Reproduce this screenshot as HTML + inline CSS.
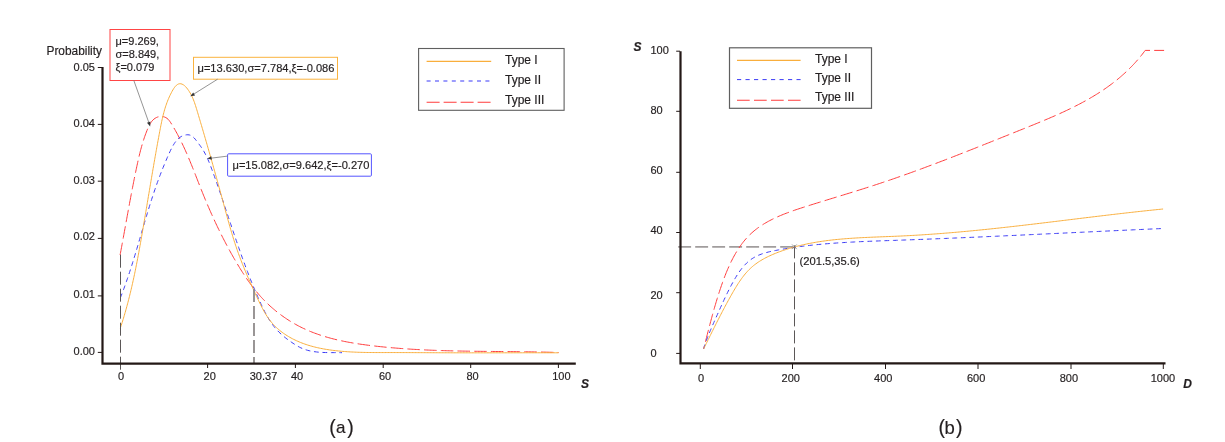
<!DOCTYPE html>
<html><head><meta charset="utf-8"><style>
html,body{margin:0;padding:0;background:#fff;width:1225px;height:442px;overflow:hidden}
svg{display:block;will-change:transform}
text{font-family:"Liberation Sans",sans-serif;fill:#231f20;stroke:#231f20;stroke-width:0.18px}
</style></head><body>
<svg width="1225" height="442" viewBox="0 0 1225 442">
<path d="M120.10,255.00 L120.37,253.54 L120.65,252.07 L120.92,250.60 L121.19,249.14 L121.46,247.67 L121.74,246.20 L122.01,244.73 L122.28,243.26 L122.55,241.79 L122.81,240.32 L123.08,238.85 L123.35,237.38 L123.62,235.90 L123.89,234.43 L124.16,232.95 L124.42,231.48 L124.69,230.01 L124.96,228.53 L125.22,227.05 L125.49,225.58 L125.76,224.10 L126.03,222.63 L126.29,221.15 L126.56,219.67 L126.83,218.20 L127.10,216.72 L127.37,215.24 L127.64,213.77 L127.91,212.29 L128.18,210.81 L128.45,209.34 L128.72,207.86 L128.99,206.39 L129.27,204.91 L129.54,203.43 L129.81,201.96 L130.09,200.48 L130.36,199.01 L130.64,197.54 L130.92,196.06 L131.20,194.59 L131.48,193.12 L131.76,191.64 L132.04,190.17 L132.33,188.70 L132.61,187.23 L132.90,185.76 L133.19,184.29 L133.47,182.82 L133.76,181.36 L134.06,179.89 L134.35,178.43 L134.64,176.96 L134.94,175.50 L135.24,174.03 L135.54,172.57 L135.84,171.11 L136.15,169.65 L136.45,168.19 L136.76,166.74 L137.07,165.28 L137.38,163.83 L137.70,162.37 L138.02,160.92 L138.35,159.47 L138.68,158.02 L139.02,156.57 L139.36,155.12 L139.71,153.67 L140.08,152.23 L140.45,150.78 L140.83,149.34 L141.22,147.89 L141.62,146.45 L142.03,145.01 L142.45,143.57 L142.89,142.13 L143.34,140.69 L143.81,139.25 L144.29,137.81 L144.78,136.37 L145.29,134.94 L145.82,133.50 L146.37,132.07 L146.93,130.63 L147.51,129.20 L148.12,127.77 L148.76,126.36 L149.44,124.99 L150.18,123.66 L150.99,122.40 L151.87,121.21 L152.85,120.12 L153.92,119.13 L155.10,118.27 L156.37,117.55 L157.70,117.01 L159.08,116.64 L160.48,116.47 L161.87,116.47 L163.25,116.66 L164.58,117.04 L165.85,117.60 L167.02,118.35 L168.08,119.27 L169.04,120.35 L169.93,121.54 L170.77,122.79 L171.58,124.08 L172.38,125.38 L173.16,126.68 L173.94,127.99 L174.70,129.30 L175.45,130.61 L176.18,131.93 L176.91,133.25 L177.63,134.58 L178.33,135.91 L179.03,137.24 L179.71,138.58 L180.39,139.92 L181.06,141.27 L181.72,142.61 L182.37,143.97 L183.01,145.32 L183.65,146.68 L184.28,148.04 L184.90,149.40 L185.51,150.77 L186.12,152.13 L186.72,153.51 L187.32,154.88 L187.91,156.25 L188.49,157.63 L189.07,159.01 L189.65,160.39 L190.22,161.77 L190.78,163.16 L191.35,164.54 L191.91,165.93 L192.47,167.32 L193.02,168.70 L193.57,170.09 L194.12,171.49 L194.67,172.88 L195.22,174.27 L195.77,175.66 L196.31,177.05 L196.86,178.45 L197.40,179.84 L197.95,181.24 L198.49,182.63 L199.04,184.02 L199.59,185.42 L200.14,186.81 L200.69,188.20 L201.24,189.59 L201.80,190.98 L202.36,192.37 L202.92,193.76 L203.48,195.15 L204.05,196.54 L204.62,197.92 L205.19,199.31 L205.77,200.69 L206.35,202.07 L206.94,203.46 L207.52,204.84 L208.11,206.21 L208.71,207.59 L209.31,208.97 L209.91,210.34 L210.51,211.71 L211.12,213.08 L211.73,214.45 L212.35,215.82 L212.97,217.19 L213.59,218.55 L214.22,219.91 L214.85,221.28 L215.48,222.63 L216.12,223.99 L216.76,225.35 L217.40,226.70 L218.05,228.05 L218.71,229.40 L219.36,230.75 L220.03,232.10 L220.69,233.44 L221.36,234.78 L222.03,236.12 L222.71,237.46 L223.39,238.79 L224.08,240.12 L224.77,241.45 L225.46,242.78 L226.16,244.11 L226.86,245.43 L227.57,246.75 L228.28,248.07 L228.99,249.38 L229.71,250.70 L230.44,252.01 L231.16,253.31 L231.90,254.62 L232.64,255.92 L233.38,257.22 L234.12,258.51 L234.87,259.81 L235.63,261.10 L236.39,262.39 L237.16,263.67 L237.93,264.95 L238.70,266.23 L239.48,267.51 L240.26,268.78 L241.06,270.04 L241.85,271.31 L242.66,272.57 L243.47,273.82 L244.28,275.07 L245.11,276.31 L245.94,277.55 L246.78,278.78 L247.63,280.01 L248.49,281.23 L249.35,282.44 L250.23,283.65 L251.11,284.85 L252.01,286.04 L252.91,287.23 L253.82,288.40 L254.75,289.57 L255.68,290.73 L256.63,291.89 L257.59,293.03 L258.56,294.17 L259.54,295.29 L260.53,296.41 L261.54,297.51 L262.56,298.61 L263.59,299.70 L264.64,300.77 L265.70,301.84 L266.77,302.89 L267.86,303.93 L268.96,304.97 L270.06,305.99 L271.19,307.00 L272.32,307.99 L273.46,308.98 L274.62,309.95 L275.78,310.91 L276.96,311.86 L278.15,312.79 L279.35,313.71 L280.55,314.62 L281.77,315.52 L283.00,316.40 L284.23,317.27 L285.48,318.12 L286.73,318.96 L287.99,319.79 L289.26,320.60 L290.54,321.40 L291.83,322.18 L293.12,322.95 L294.42,323.70 L295.73,324.43 L297.05,325.15 L298.37,325.86 L299.69,326.55 L301.03,327.22 L302.37,327.88 L303.71,328.52 L305.06,329.14 L306.42,329.76 L307.78,330.35 L309.15,330.94 L310.52,331.50 L311.90,332.06 L313.29,332.60 L314.67,333.13 L316.07,333.64 L317.47,334.14 L318.87,334.63 L320.28,335.11 L321.69,335.57 L323.10,336.02 L324.52,336.46 L325.95,336.89 L327.38,337.30 L328.81,337.71 L330.25,338.10 L331.68,338.49 L333.13,338.86 L334.57,339.22 L336.02,339.58 L337.48,339.92 L338.93,340.25 L340.39,340.58 L341.85,340.89 L343.32,341.20 L344.78,341.50 L346.25,341.79 L347.72,342.07 L349.20,342.34 L350.67,342.60 L352.15,342.86 L353.63,343.11 L355.11,343.36 L356.59,343.59 L358.08,343.82 L359.56,344.05 L361.05,344.27 L362.54,344.48 L364.02,344.68 L365.51,344.89 L367.00,345.08 L368.50,345.27 L369.99,345.46 L371.48,345.64 L372.97,345.82 L374.47,345.99 L375.96,346.16 L377.45,346.33 L378.94,346.49 L380.44,346.65 L381.93,346.80 L383.42,346.95 L384.92,347.10 L386.41,347.25 L387.90,347.39 L389.40,347.52 L390.89,347.66 L392.38,347.79 L393.88,347.92 L395.37,348.04 L396.87,348.16 L398.36,348.28 L399.85,348.40 L401.35,348.51 L402.84,348.62 L404.34,348.73 L405.83,348.83 L407.32,348.93 L408.82,349.03 L410.31,349.12 L411.81,349.22 L413.30,349.31 L414.80,349.39 L416.29,349.48 L417.79,349.56 L419.28,349.64 L420.78,349.72 L422.27,349.79 L423.77,349.87 L425.26,349.94 L426.76,350.00 L428.25,350.07 L429.75,350.13 L431.24,350.19 L432.74,350.25 L434.23,350.31 L435.73,350.37 L437.22,350.42 L438.72,350.47 L440.22,350.52 L441.71,350.57 L443.21,350.62 L444.70,350.66 L446.20,350.71 L447.70,350.75 L449.19,350.79 L450.69,350.82 L452.18,350.86 L453.68,350.90 L455.18,350.93 L456.67,350.96 L458.17,351.00 L459.66,351.03 L461.16,351.05 L462.66,351.08 L464.15,351.11 L465.65,351.13 L467.15,351.16 L468.64,351.18 L470.14,351.20 L471.64,351.23 L473.13,351.25 L474.63,351.27 L476.13,351.29 L477.62,351.31 L479.12,351.32 L480.62,351.34 L482.12,351.36 L483.61,351.37 L485.11,351.39 L486.61,351.40 L488.10,351.42 L489.60,351.43 L491.10,351.45 L492.60,351.46 L494.09,351.48 L495.59,351.49 L497.09,351.50 L498.58,351.52 L500.08,351.53 L501.58,351.54 L503.08,351.56 L504.57,351.57 L506.07,351.58 L507.57,351.60 L509.07,351.61 L510.56,351.63 L512.06,351.64 L513.56,351.66 L515.06,351.67 L516.56,351.69 L518.05,351.70 L519.55,351.72 L521.05,351.74 L522.55,351.76 L524.04,351.78 L525.54,351.80 L527.04,351.82 L528.54,351.84 L530.04,351.86 L531.53,351.88 L533.03,351.91 L534.53,351.93 L536.03,351.96 L537.53,351.98 L539.02,352.01 L540.52,352.04 L542.02,352.07 L543.52,352.10 L545.02,352.14 L546.51,352.17 L548.01,352.21 L549.51,352.24 L551.01,352.28 L552.51,352.32 L554.01,352.37 L555.50,352.41 L557.00,352.45 L558.50,352.50" fill="none" stroke="#ff3c3c" stroke-width="1" stroke-dasharray="12.5 4.2"/>
<path d="M120.30,298.00 L120.85,296.62 L121.39,295.23 L121.93,293.84 L122.46,292.44 L122.99,291.05 L123.51,289.65 L124.02,288.25 L124.53,286.85 L125.04,285.44 L125.54,284.03 L126.04,282.62 L126.53,281.21 L127.02,279.80 L127.51,278.38 L127.99,276.97 L128.47,275.55 L128.94,274.12 L129.41,272.70 L129.88,271.28 L130.34,269.85 L130.80,268.42 L131.26,266.99 L131.72,265.56 L132.17,264.13 L132.62,262.70 L133.06,261.26 L133.51,259.83 L133.95,258.39 L134.39,256.95 L134.83,255.52 L135.26,254.08 L135.69,252.64 L136.13,251.20 L136.56,249.76 L136.99,248.31 L137.41,246.87 L137.84,245.43 L138.27,243.99 L138.69,242.54 L139.11,241.10 L139.54,239.66 L139.96,238.21 L140.38,236.77 L140.80,235.33 L141.23,233.88 L141.65,232.44 L142.07,231.00 L142.49,229.56 L142.91,228.11 L143.34,226.67 L143.76,225.23 L144.18,223.79 L144.61,222.35 L145.03,220.92 L145.46,219.48 L145.89,218.04 L146.32,216.60 L146.75,215.17 L147.18,213.74 L147.61,212.30 L148.05,210.87 L148.49,209.44 L148.93,208.01 L149.37,206.59 L149.81,205.16 L150.26,203.74 L150.71,202.32 L151.16,200.90 L151.62,199.48 L152.07,198.06 L152.54,196.65 L153.00,195.23 L153.47,193.82 L153.94,192.41 L154.41,191.01 L154.89,189.60 L155.37,188.20 L155.86,186.80 L156.35,185.41 L156.84,184.01 L157.34,182.62 L157.84,181.23 L158.35,179.84 L158.86,178.45 L159.38,177.07 L159.91,175.68 L160.44,174.29 L160.97,172.91 L161.52,171.52 L162.06,170.13 L162.62,168.74 L163.18,167.34 L163.75,165.95 L164.33,164.55 L164.91,163.14 L165.51,161.74 L166.11,160.33 L166.72,158.91 L167.33,157.49 L167.96,156.06 L168.60,154.63 L169.24,153.20 L169.90,151.76 L170.57,150.32 L171.26,148.91 L171.98,147.51 L172.72,146.14 L173.49,144.82 L174.29,143.54 L175.14,142.31 L176.02,141.14 L176.96,140.05 L177.94,139.04 L178.97,138.11 L180.07,137.27 L181.22,136.54 L182.44,135.92 L183.73,135.41 L185.09,135.04 L186.49,134.81 L187.91,134.77 L189.31,134.93 L190.66,135.33 L191.92,136.00 L193.09,136.90 L194.19,137.99 L195.23,139.20 L196.23,140.47 L197.21,141.75 L198.16,143.01 L199.10,144.25 L200.01,145.49 L200.89,146.73 L201.75,147.97 L202.57,149.23 L203.35,150.50 L204.11,151.79 L204.83,153.10 L205.52,154.41 L206.19,155.74 L206.84,157.09 L207.46,158.44 L208.07,159.80 L208.65,161.18 L209.22,162.56 L209.78,163.94 L210.33,165.33 L210.86,166.73 L211.39,168.13 L211.91,169.53 L212.43,170.93 L212.95,172.34 L213.46,173.74 L213.97,175.15 L214.48,176.56 L214.99,177.97 L215.49,179.38 L215.99,180.79 L216.50,182.20 L216.99,183.61 L217.49,185.02 L217.98,186.43 L218.48,187.85 L218.97,189.26 L219.46,190.68 L219.95,192.09 L220.43,193.51 L220.92,194.93 L221.40,196.34 L221.88,197.76 L222.37,199.18 L222.85,200.60 L223.33,202.02 L223.81,203.44 L224.28,204.86 L224.76,206.28 L225.24,207.70 L225.71,209.12 L226.19,210.54 L226.67,211.96 L227.14,213.38 L227.62,214.80 L228.09,216.22 L228.57,217.64 L229.04,219.07 L229.52,220.49 L229.99,221.91 L230.47,223.33 L230.94,224.75 L231.42,226.17 L231.90,227.59 L232.37,229.01 L232.85,230.43 L233.33,231.85 L233.81,233.27 L234.29,234.69 L234.77,236.11 L235.25,237.53 L235.74,238.95 L236.22,240.37 L236.71,241.78 L237.20,243.20 L237.69,244.62 L238.18,246.03 L238.67,247.45 L239.16,248.86 L239.66,250.28 L240.16,251.69 L240.66,253.10 L241.16,254.51 L241.66,255.92 L242.17,257.33 L242.68,258.74 L243.19,260.15 L243.70,261.56 L244.22,262.97 L244.74,264.37 L245.26,265.78 L245.78,267.18 L246.31,268.58 L246.84,269.98 L247.37,271.38 L247.91,272.78 L248.44,274.18 L248.99,275.58 L249.53,276.97 L250.08,278.37 L250.63,279.76 L251.19,281.15 L251.75,282.54 L252.31,283.93 L252.88,285.32 L253.45,286.70 L254.03,288.09 L254.61,289.47 L255.19,290.85 L255.78,292.23 L256.37,293.61 L256.97,294.99 L257.57,296.36 L258.17,297.73 L258.78,299.10 L259.40,300.47 L260.02,301.84 L260.64,303.21 L261.27,304.57 L261.91,305.93 L262.55,307.29 L263.20,308.64 L263.87,309.98 L264.54,311.32 L265.23,312.65 L265.93,313.97 L266.65,315.28 L267.38,316.58 L268.13,317.87 L268.89,319.14 L269.68,320.40 L270.49,321.65 L271.32,322.88 L272.17,324.09 L273.05,325.28 L273.96,326.46 L274.89,327.61 L275.85,328.75 L276.83,329.86 L277.85,330.95 L278.90,332.02 L279.97,333.06 L281.07,334.09 L282.20,335.09 L283.34,336.08 L284.51,337.04 L285.69,337.98 L286.89,338.91 L288.11,339.82 L289.34,340.71 L290.57,341.59 L291.82,342.45 L293.07,343.29 L294.33,344.12 L295.60,344.93 L296.87,345.71 L298.16,346.45 L299.47,347.16 L300.79,347.81 L302.13,348.42 L303.49,348.97 L304.87,349.47 L306.27,349.93 L307.69,350.34 L309.12,350.70 L310.57,351.02 L312.02,351.31 L313.49,351.55 L314.97,351.77 L316.46,351.95 L317.96,352.11 L319.46,352.24 L320.97,352.34 L322.49,352.42 L324.00,352.49 L325.52,352.54 L327.04,352.57 L328.56,352.60 L330.08,352.61 L331.59,352.62 L333.10,352.62 L334.60,352.62 L336.10,352.63 L337.59,352.63 L339.07,352.65 L340.54,352.67 L342.00,352.70" fill="none" stroke="#3b3bf5" stroke-width="1" stroke-dasharray="4.8 3.7"/>
<path d="M120.30,328.20 L120.77,326.77 L121.24,325.34 L121.70,323.91 L122.15,322.48 L122.60,321.05 L123.04,319.61 L123.48,318.18 L123.91,316.74 L124.34,315.31 L124.76,313.87 L125.17,312.43 L125.58,310.99 L125.99,309.55 L126.39,308.10 L126.79,306.66 L127.18,305.21 L127.57,303.77 L127.95,302.32 L128.32,300.87 L128.70,299.42 L129.07,297.97 L129.43,296.52 L129.79,295.07 L130.15,293.62 L130.50,292.17 L130.84,290.71 L131.19,289.26 L131.53,287.80 L131.87,286.34 L132.20,284.88 L132.53,283.43 L132.85,281.97 L133.17,280.51 L133.49,279.05 L133.81,277.58 L134.12,276.12 L134.43,274.66 L134.74,273.20 L135.04,271.73 L135.34,270.27 L135.64,268.80 L135.93,267.33 L136.22,265.87 L136.51,264.40 L136.80,262.93 L137.09,261.46 L137.37,259.99 L137.65,258.52 L137.93,257.05 L138.20,255.58 L138.48,254.11 L138.75,252.64 L139.02,251.17 L139.29,249.70 L139.56,248.22 L139.82,246.75 L140.09,245.28 L140.35,243.80 L140.61,242.33 L140.87,240.85 L141.13,239.38 L141.39,237.90 L141.65,236.43 L141.90,234.95 L142.16,233.47 L142.41,232.00 L142.66,230.52 L142.92,229.04 L143.17,227.57 L143.42,226.09 L143.67,224.61 L143.92,223.14 L144.17,221.66 L144.42,220.18 L144.67,218.70 L144.92,217.22 L145.17,215.74 L145.42,214.27 L145.67,212.79 L145.92,211.31 L146.17,209.83 L146.41,208.35 L146.66,206.87 L146.91,205.39 L147.16,203.91 L147.40,202.44 L147.65,200.96 L147.90,199.48 L148.14,198.00 L148.39,196.52 L148.64,195.04 L148.88,193.56 L149.13,192.08 L149.38,190.61 L149.63,189.13 L149.87,187.65 L150.12,186.17 L150.37,184.69 L150.62,183.21 L150.87,181.74 L151.12,180.26 L151.37,178.78 L151.62,177.30 L151.87,175.83 L152.12,174.35 L152.37,172.87 L152.62,171.40 L152.87,169.92 L153.12,168.44 L153.38,166.97 L153.63,165.49 L153.89,164.02 L154.14,162.54 L154.40,161.07 L154.65,159.59 L154.91,158.12 L155.17,156.64 L155.43,155.17 L155.69,153.70 L155.95,152.23 L156.21,150.75 L156.47,149.28 L156.73,147.81 L157.00,146.34 L157.26,144.87 L157.53,143.40 L157.80,141.93 L158.07,140.46 L158.34,138.99 L158.61,137.52 L158.88,136.05 L159.15,134.59 L159.43,133.12 L159.70,131.65 L159.98,130.19 L160.26,128.72 L160.54,127.26 L160.82,125.79 L161.12,124.33 L161.41,122.87 L161.72,121.41 L162.03,119.95 L162.36,118.50 L162.70,117.04 L163.05,115.59 L163.41,114.14 L163.79,112.69 L164.18,111.24 L164.59,109.80 L165.02,108.36 L165.47,106.92 L165.94,105.49 L166.44,104.05 L166.95,102.63 L167.50,101.20 L168.06,99.78 L168.66,98.36 L169.28,96.95 L169.93,95.54 L170.61,94.14 L171.33,92.74 L172.07,91.34 L172.86,89.96 L173.68,88.62 L174.54,87.37 L175.45,86.24 L176.41,85.27 L177.43,84.50 L178.51,83.98 L179.66,83.73 L180.86,83.78 L182.09,84.13 L183.30,84.76 L184.47,85.62 L185.58,86.68 L186.64,87.87 L187.63,89.13 L188.55,90.42 L189.41,91.72 L190.22,93.05 L190.96,94.39 L191.66,95.75 L192.31,97.12 L192.92,98.50 L193.49,99.89 L194.03,101.29 L194.54,102.70 L195.03,104.12 L195.49,105.54 L195.95,106.97 L196.39,108.40 L196.82,109.84 L197.25,111.27 L197.68,112.70 L198.11,114.14 L198.54,115.57 L198.97,117.01 L199.39,118.44 L199.82,119.87 L200.25,121.31 L200.67,122.74 L201.10,124.18 L201.52,125.61 L201.94,127.05 L202.37,128.48 L202.79,129.92 L203.21,131.35 L203.63,132.79 L204.05,134.22 L204.47,135.66 L204.89,137.09 L205.31,138.53 L205.72,139.97 L206.14,141.40 L206.56,142.84 L206.97,144.27 L207.39,145.71 L207.80,147.15 L208.21,148.59 L208.63,150.02 L209.04,151.46 L209.45,152.90 L209.86,154.34 L210.27,155.77 L210.68,157.21 L211.09,158.65 L211.50,160.09 L211.91,161.53 L212.31,162.97 L212.72,164.41 L213.13,165.85 L213.53,167.29 L213.94,168.73 L214.34,170.17 L214.74,171.61 L215.15,173.05 L215.55,174.49 L215.95,175.94 L216.35,177.38 L216.75,178.82 L217.15,180.26 L217.55,181.70 L217.95,183.15 L218.35,184.59 L218.75,186.03 L219.14,187.48 L219.54,188.92 L219.94,190.37 L220.33,191.81 L220.73,193.26 L221.12,194.70 L221.51,196.15 L221.91,197.60 L222.30,199.04 L222.69,200.49 L223.08,201.94 L223.47,203.39 L223.86,204.83 L224.25,206.28 L224.65,207.73 L225.04,209.18 L225.43,210.63 L225.82,212.07 L226.21,213.52 L226.61,214.97 L227.00,216.42 L227.40,217.86 L227.80,219.31 L228.20,220.75 L228.61,222.20 L229.01,223.64 L229.42,225.08 L229.83,226.52 L230.25,227.96 L230.66,229.40 L231.09,230.84 L231.51,232.28 L231.94,233.71 L232.37,235.15 L232.81,236.58 L233.25,238.01 L233.70,239.44 L234.15,240.86 L234.61,242.29 L235.07,243.71 L235.54,245.13 L236.02,246.54 L236.50,247.96 L236.98,249.37 L237.48,250.78 L237.98,252.19 L238.48,253.59 L239.00,255.00 L239.51,256.40 L240.04,257.80 L240.57,259.19 L241.10,260.59 L241.65,261.98 L242.19,263.37 L242.74,264.76 L243.30,266.14 L243.86,267.53 L244.43,268.91 L245.00,270.29 L245.58,271.67 L246.16,273.05 L246.74,274.43 L247.33,275.80 L247.92,277.18 L248.52,278.55 L249.12,279.92 L249.72,281.29 L250.33,282.66 L250.94,284.03 L251.56,285.40 L252.17,286.77 L252.79,288.14 L253.42,289.50 L254.04,290.87 L254.67,292.24 L255.30,293.60 L255.94,294.97 L256.57,296.33 L257.21,297.70 L257.85,299.06 L258.49,300.42 L259.14,301.78 L259.79,303.14 L260.46,304.49 L261.13,305.83 L261.81,307.17 L262.51,308.50 L263.21,309.82 L263.94,311.13 L264.68,312.42 L265.44,313.70 L266.22,314.97 L267.01,316.22 L267.84,317.45 L268.68,318.66 L269.55,319.86 L270.45,321.03 L271.38,322.18 L272.33,323.31 L273.32,324.42 L274.34,325.50 L275.38,326.55 L276.46,327.58 L277.56,328.58 L278.69,329.56 L279.84,330.52 L281.01,331.45 L282.21,332.36 L283.42,333.24 L284.66,334.09 L285.91,334.93 L287.18,335.73 L288.47,336.52 L289.77,337.28 L291.08,338.01 L292.41,338.72 L293.74,339.40 L295.09,340.06 L296.44,340.70 L297.81,341.31 L299.18,341.90 L300.56,342.47 L301.95,343.02 L303.35,343.54 L304.75,344.05 L306.16,344.53 L307.58,344.99 L309.01,345.44 L310.44,345.86 L311.88,346.27 L313.32,346.66 L314.77,347.03 L316.22,347.38 L317.68,347.72 L319.14,348.04 L320.61,348.34 L322.08,348.63 L323.55,348.91 L325.03,349.17 L326.51,349.42 L327.99,349.66 L329.47,349.88 L330.96,350.09 L332.45,350.29 L333.93,350.47 L335.42,350.65 L336.91,350.82 L338.40,350.97 L339.89,351.12 L341.39,351.26 L342.88,351.39 L344.37,351.51 L345.86,351.62 L347.35,351.72 L348.85,351.82 L350.34,351.91 L351.84,351.99 L353.33,352.06 L354.82,352.13 L356.32,352.19 L357.81,352.25 L359.31,352.30 L360.81,352.34 L362.30,352.38 L363.80,352.41 L365.29,352.44 L366.79,352.47 L368.29,352.49 L369.78,352.51 L371.28,352.53 L372.78,352.54 L374.28,352.55 L375.77,352.56 L377.27,352.56 L378.77,352.56 L380.27,352.57 L381.76,352.57 L383.26,352.57 L384.76,352.57 L386.26,352.56 L387.76,352.56 L389.25,352.56 L390.75,352.56 L392.25,352.56 L393.75,352.56 L395.25,352.57 L396.74,352.57 L398.24,352.57 L399.74,352.57 L401.24,352.58 L402.74,352.58 L404.23,352.59 L405.73,352.59 L407.23,352.60 L408.73,352.60 L410.23,352.61 L411.72,352.62 L413.22,352.62 L414.72,352.63 L416.22,352.64 L417.72,352.65 L419.21,352.65 L420.71,352.66 L422.21,352.67 L423.71,352.68 L425.20,352.68 L426.70,352.69 L428.20,352.70 L429.70,352.71 L431.20,352.71 L432.69,352.72 L434.19,352.73 L435.69,352.74 L437.19,352.74 L438.68,352.75 L440.18,352.76 L441.68,352.76 L443.18,352.77 L444.67,352.77 L446.17,352.78 L447.67,352.78 L449.17,352.79 L450.67,352.79 L452.16,352.80 L453.66,352.80 L455.16,352.80 L456.66,352.81 L458.15,352.81 L459.65,352.81 L461.15,352.81 L462.65,352.81 L464.14,352.82 L465.64,352.82 L467.14,352.82 L468.64,352.82 L470.14,352.82 L471.63,352.82 L473.13,352.82 L474.63,352.82 L476.13,352.82 L477.62,352.82 L479.12,352.82 L480.62,352.82 L482.12,352.82 L483.61,352.82 L485.11,352.82 L486.61,352.82 L488.11,352.82 L489.61,352.82 L491.10,352.82 L492.60,352.82 L494.10,352.81 L495.60,352.81 L497.09,352.81 L498.59,352.81 L500.09,352.81 L501.59,352.81 L503.08,352.80 L504.58,352.80 L506.08,352.80 L507.58,352.80 L509.08,352.80 L510.57,352.80 L512.07,352.80 L513.57,352.79 L515.07,352.79 L516.56,352.79 L518.06,352.79 L519.56,352.79 L521.06,352.79 L522.55,352.79 L524.05,352.78 L525.55,352.78 L527.05,352.78 L528.55,352.78 L530.04,352.78 L531.54,352.78 L533.04,352.78 L534.54,352.78 L536.03,352.78 L537.53,352.78 L539.03,352.78 L540.53,352.78 L542.02,352.78 L543.52,352.78 L545.02,352.78 L546.52,352.78 L548.02,352.78 L549.51,352.79 L551.01,352.79 L552.51,352.79 L554.01,352.79 L555.50,352.79 L557.00,352.80 L558.50,352.80" fill="none" stroke="#f9ae3c" stroke-width="1"/>
<line x1="120.5" y1="254.7" x2="120.5" y2="370" stroke="#5b5757" stroke-width="1" stroke-dasharray="13 4"/>
<line x1="254" y1="289" x2="254" y2="363" stroke="#8f8b8b" stroke-width="1.8" stroke-dasharray="13 4"/>
<path d="M102.5,67 V363.6 H575.8" fill="none" stroke="#231816" stroke-width="2.2"/>
<line x1="97.8" y1="352.4" x2="102" y2="352.4" stroke="#231816" stroke-width="1"/>
<line x1="97.8" y1="295.9" x2="102" y2="295.9" stroke="#231816" stroke-width="1"/>
<line x1="97.8" y1="238.4" x2="102" y2="238.4" stroke="#231816" stroke-width="1"/>
<line x1="97.8" y1="181.2" x2="102" y2="181.2" stroke="#231816" stroke-width="1"/>
<line x1="97.8" y1="124.4" x2="102" y2="124.4" stroke="#231816" stroke-width="1"/>
<line x1="97.8" y1="67.5" x2="102" y2="67.5" stroke="#231816" stroke-width="1"/>
<line x1="207.6" y1="363" x2="207.6" y2="368" stroke="#231816" stroke-width="1"/>
<line x1="295.4" y1="363" x2="295.4" y2="368" stroke="#231816" stroke-width="1"/>
<line x1="383.2" y1="363" x2="383.2" y2="368" stroke="#231816" stroke-width="1"/>
<line x1="470.7" y1="363" x2="470.7" y2="368" stroke="#231816" stroke-width="1"/>
<line x1="558.4" y1="363" x2="558.4" y2="368" stroke="#231816" stroke-width="1"/>
<text x="95" y="354.9" font-size="11" text-anchor="end" >0.00</text>
<text x="95" y="297.9" font-size="11" text-anchor="end" >0.01</text>
<text x="95" y="240.3" font-size="11" text-anchor="end" >0.02</text>
<text x="95" y="183.7" font-size="11" text-anchor="end" >0.03</text>
<text x="95" y="126.9" font-size="11" text-anchor="end" >0.04</text>
<text x="95" y="70.5" font-size="11" text-anchor="end" >0.05</text>
<text x="102" y="55.2" font-size="11.9" text-anchor="end" >Probability</text>
<text x="121" y="380" font-size="11" text-anchor="middle" >0</text>
<text x="209.7" y="380" font-size="11" text-anchor="middle" >20</text>
<text x="297" y="380" font-size="11" text-anchor="middle" >40</text>
<text x="385.1" y="380" font-size="11" text-anchor="middle" >60</text>
<text x="472.6" y="380" font-size="11" text-anchor="middle" >80</text>
<text x="561.4" y="380" font-size="11" text-anchor="middle" >100</text>
<text x="263.5" y="380" font-size="11" text-anchor="middle" >30.37</text>
<text x="581" y="387.8" font-size="12" text-anchor="start" font-weight="bold" font-style="italic">S</text>
<text x="329.2" y="433.5" font-size="19.5" text-anchor="start" >(</text>
<text x="336" y="433" font-size="17" text-anchor="start" >a</text>
<text x="347.2" y="433.5" font-size="19.5" text-anchor="start" >)</text>
<rect x="110" y="29.5" width="60" height="51" fill="#fff" stroke="#ff4545" stroke-width="1"/>
<text x="115.5" y="45" font-size="11" text-anchor="start" >μ=9.269,</text>
<text x="115.5" y="57.9" font-size="11" text-anchor="start" >σ=8.849,</text>
<text x="115.5" y="70.7" font-size="11" text-anchor="start" >ξ=0.079</text>
<rect x="193.5" y="57.3" width="144" height="21.9" fill="#fff" stroke="#fab33f" stroke-width="1"/>
<text x="197.5" y="72.4" font-size="11.1" text-anchor="start" >μ=13.630,σ=7.784,ξ=-0.086</text>
<rect x="227.6" y="153.8" width="143.8" height="22.4" rx="1" fill="#fff" stroke="#5555ff" stroke-width="1"/>
<text x="232.5" y="169.2" font-size="11.1" text-anchor="start" >μ=15.082,σ=9.642,ξ=-0.270</text>
<line x1="133.8" y1="80.4" x2="148.7" y2="122.2" stroke="#7a7a7a" stroke-width="0.8"/><path d="M150.2,126.4 L147.0,122.8 L150.4,121.6 Z" fill="#333"/>
<line x1="217.6" y1="79.2" x2="194.1" y2="93.9" stroke="#7a7a7a" stroke-width="0.8"/><path d="M190.3,96.3 L193.2,92.4 L195.1,95.4 Z" fill="#333"/>
<line x1="227.6" y1="156.1" x2="211.7" y2="158.1" stroke="#7a7a7a" stroke-width="0.8"/><path d="M207.2,158.6 L211.4,156.3 L211.9,159.8 Z" fill="#333"/>
<rect x="418.6" y="48.5" width="145.5" height="61.8" fill="#fff" stroke="#5f5f5f" stroke-width="1.1"/>
<line x1="426.6" y1="61.4" x2="491.2" y2="61.4" stroke="#f9ae3c" stroke-width="1.1"/>
<line x1="426.6" y1="81" x2="491.2" y2="81" stroke="#9c9cfc" stroke-width="2" stroke-dasharray="4 4.4"/>
<line x1="426.6" y1="102.3" x2="491.2" y2="102.3" stroke="#ff3c3c" stroke-width="1.1" stroke-dasharray="13 4"/>
<text x="505" y="64.1" font-size="12" text-anchor="start" >Type I</text>
<text x="505" y="84" font-size="12" text-anchor="start" >Type II</text>
<text x="505" y="103.8" font-size="12" text-anchor="start" >Type III</text>
<line x1="678.2" y1="246.9" x2="794.2" y2="246.9" stroke="#a19d9d" stroke-width="1.8" stroke-dasharray="12.9 4.1"/>
<line x1="794.5" y1="245.4" x2="794.5" y2="363" stroke="#5b5757" stroke-width="1" stroke-dasharray="13 4"/>
<path d="M703.60,348.90 L703.97,347.45 L704.34,346.01 L704.71,344.56 L705.08,343.12 L705.45,341.68 L705.82,340.24 L706.19,338.80 L706.56,337.36 L706.92,335.92 L707.29,334.48 L707.66,333.04 L708.03,331.61 L708.40,330.17 L708.78,328.73 L709.15,327.30 L709.53,325.86 L709.90,324.43 L710.28,322.99 L710.66,321.56 L711.05,320.12 L711.43,318.69 L711.82,317.26 L712.21,315.82 L712.61,314.39 L713.01,312.95 L713.41,311.51 L713.81,310.08 L714.22,308.64 L714.64,307.20 L715.05,305.77 L715.48,304.33 L715.90,302.89 L716.33,301.45 L716.77,300.01 L717.21,298.57 L717.66,297.12 L718.11,295.68 L718.57,294.23 L719.03,292.79 L719.51,291.34 L719.98,289.89 L720.47,288.44 L720.96,286.99 L721.45,285.54 L721.96,284.09 L722.47,282.64 L722.99,281.19 L723.52,279.74 L724.06,278.29 L724.61,276.85 L725.16,275.41 L725.73,273.98 L726.31,272.55 L726.89,271.13 L727.49,269.71 L728.10,268.30 L728.72,266.89 L729.35,265.49 L729.99,264.11 L730.65,262.73 L731.31,261.36 L731.99,260.00 L732.69,258.65 L733.39,257.31 L734.11,255.98 L734.85,254.67 L735.60,253.36 L736.36,252.08 L737.14,250.80 L737.93,249.54 L738.74,248.30 L739.57,247.07 L740.41,245.86 L741.27,244.66 L742.14,243.49 L743.03,242.33 L743.94,241.19 L744.87,240.06 L745.81,238.96 L746.78,237.88 L747.76,236.82 L748.76,235.78 L749.78,234.77 L750.82,233.77 L751.88,232.80 L752.96,231.85 L754.06,230.92 L755.17,230.02 L756.30,229.13 L757.45,228.26 L758.62,227.42 L759.80,226.59 L761.00,225.78 L762.21,224.99 L763.44,224.21 L764.68,223.46 L765.94,222.72 L767.20,221.99 L768.48,221.29 L769.78,220.59 L771.08,219.92 L772.40,219.25 L773.73,218.60 L775.07,217.97 L776.42,217.34 L777.77,216.73 L779.14,216.13 L780.52,215.55 L781.90,214.97 L783.29,214.40 L784.69,213.85 L786.10,213.30 L787.51,212.77 L788.93,212.24 L790.35,211.72 L791.78,211.21 L793.22,210.70 L794.65,210.20 L796.09,209.71 L797.54,209.22 L798.99,208.74 L800.43,208.27 L801.89,207.79 L803.34,207.33 L804.79,206.86 L806.24,206.40 L807.70,205.94 L809.15,205.48 L810.60,205.03 L812.05,204.57 L813.50,204.12 L814.95,203.67 L816.40,203.22 L817.85,202.77 L819.30,202.33 L820.74,201.88 L822.19,201.43 L823.63,200.99 L825.07,200.55 L826.52,200.10 L827.96,199.66 L829.40,199.22 L830.84,198.78 L832.28,198.34 L833.72,197.90 L835.16,197.46 L836.59,197.02 L838.03,196.58 L839.46,196.14 L840.90,195.70 L842.33,195.27 L843.77,194.83 L845.20,194.39 L846.63,193.95 L848.06,193.51 L849.49,193.07 L850.92,192.63 L852.35,192.18 L853.78,191.74 L855.20,191.30 L856.63,190.85 L858.06,190.41 L859.48,189.96 L860.91,189.51 L862.33,189.07 L863.75,188.62 L865.18,188.17 L866.60,187.71 L868.02,187.26 L869.44,186.80 L870.86,186.35 L872.28,185.89 L873.70,185.43 L875.12,184.96 L876.53,184.50 L877.95,184.03 L879.37,183.57 L880.78,183.10 L882.20,182.62 L883.61,182.15 L885.03,181.67 L886.44,181.20 L887.85,180.72 L889.26,180.24 L890.68,179.75 L892.09,179.27 L893.50,178.78 L894.91,178.29 L896.32,177.81 L897.73,177.31 L899.14,176.82 L900.54,176.33 L901.95,175.83 L903.36,175.33 L904.77,174.83 L906.17,174.33 L907.58,173.83 L908.98,173.33 L910.39,172.82 L911.79,172.32 L913.20,171.81 L914.60,171.30 L916.00,170.79 L917.41,170.27 L918.81,169.76 L920.21,169.25 L921.61,168.73 L923.02,168.21 L924.42,167.69 L925.82,167.17 L927.22,166.65 L928.62,166.13 L930.02,165.60 L931.42,165.08 L932.82,164.55 L934.22,164.03 L935.62,163.50 L937.02,162.97 L938.41,162.44 L939.81,161.91 L941.21,161.37 L942.61,160.84 L944.01,160.30 L945.40,159.77 L946.80,159.23 L948.20,158.69 L949.59,158.16 L950.99,157.62 L952.39,157.08 L953.78,156.53 L955.18,155.99 L956.57,155.45 L957.97,154.90 L959.37,154.36 L960.76,153.81 L962.16,153.27 L963.55,152.72 L964.95,152.17 L966.34,151.62 L967.74,151.08 L969.13,150.53 L970.53,149.98 L971.92,149.42 L973.32,148.87 L974.71,148.32 L976.11,147.77 L977.50,147.21 L978.90,146.66 L980.29,146.11 L981.68,145.55 L983.08,144.99 L984.47,144.44 L985.87,143.88 L987.26,143.33 L988.66,142.77 L990.05,142.21 L991.45,141.65 L992.84,141.09 L994.24,140.54 L995.63,139.98 L997.03,139.42 L998.42,138.86 L999.82,138.30 L1001.22,137.74 L1002.61,137.18 L1004.01,136.62 L1005.40,136.06 L1006.80,135.50 L1008.20,134.94 L1009.59,134.38 L1010.99,133.81 L1012.39,133.25 L1013.78,132.69 L1015.18,132.13 L1016.58,131.57 L1017.98,131.01 L1019.38,130.45 L1020.77,129.89 L1022.17,129.33 L1023.57,128.76 L1024.97,128.20 L1026.37,127.64 L1027.77,127.08 L1029.16,126.51 L1030.56,125.95 L1031.96,125.38 L1033.35,124.82 L1034.75,124.25 L1036.14,123.68 L1037.54,123.11 L1038.93,122.54 L1040.32,121.96 L1041.71,121.39 L1043.10,120.81 L1044.49,120.23 L1045.88,119.64 L1047.26,119.06 L1048.65,118.47 L1050.03,117.88 L1051.41,117.28 L1052.79,116.69 L1054.16,116.09 L1055.53,115.48 L1056.91,114.88 L1058.27,114.26 L1059.64,113.65 L1061.00,113.03 L1062.37,112.41 L1063.72,111.78 L1065.08,111.15 L1066.43,110.51 L1067.78,109.87 L1069.13,109.23 L1070.47,108.58 L1071.81,107.92 L1073.15,107.26 L1074.48,106.60 L1075.81,105.92 L1077.13,105.25 L1078.46,104.56 L1079.77,103.88 L1081.09,103.18 L1082.40,102.48 L1083.70,101.77 L1085.00,101.06 L1086.30,100.34 L1087.59,99.61 L1088.88,98.88 L1090.16,98.14 L1091.44,97.39 L1092.71,96.64 L1093.98,95.87 L1095.24,95.10 L1096.50,94.33 L1097.75,93.54 L1099.00,92.75 L1100.24,91.95 L1101.48,91.14 L1102.71,90.32 L1103.93,89.49 L1105.15,88.66 L1106.36,87.81 L1107.57,86.96 L1108.77,86.10 L1109.96,85.23 L1111.15,84.35 L1112.33,83.46 L1113.51,82.56 L1114.67,81.65 L1115.83,80.73 L1116.99,79.80 L1118.14,78.86 L1119.28,77.91 L1120.41,76.95 L1121.54,75.98 L1122.65,74.99 L1123.76,74.00 L1124.87,73.00 L1125.96,71.98 L1127.05,70.96 L1128.13,69.92 L1129.20,68.87 L1130.27,67.81 L1131.33,66.74 L1132.37,65.65 L1133.41,64.56 L1134.44,63.45 L1135.47,62.32 L1136.48,61.19 L1137.49,60.04 L1138.48,58.88 L1139.47,57.71 L1140.45,56.53 L1141.42,55.33 L1142.38,54.11 L1143.33,52.89 L1144.27,51.65 L1145.20,50.40 L1164.1,50.4" fill="none" stroke="#ff3c3c" stroke-width="1" stroke-dasharray="12.5 4.2" stroke-dashoffset="9.56"/>
<path d="M703.60,348.90 L704.05,347.44 L704.52,345.99 L705.00,344.55 L705.49,343.12 L705.99,341.70 L706.50,340.29 L707.02,338.89 L707.55,337.50 L708.09,336.11 L708.63,334.73 L709.19,333.35 L709.75,331.98 L710.31,330.61 L710.89,329.25 L711.47,327.89 L712.05,326.54 L712.64,325.19 L713.24,323.83 L713.83,322.48 L714.43,321.13 L715.04,319.78 L715.64,318.43 L716.25,317.07 L716.86,315.72 L717.47,314.36 L718.08,313.00 L718.69,311.63 L719.30,310.27 L719.91,308.90 L720.53,307.53 L721.15,306.16 L721.77,304.79 L722.40,303.41 L723.03,302.04 L723.67,300.66 L724.31,299.28 L724.96,297.91 L725.62,296.53 L726.28,295.15 L726.95,293.78 L727.62,292.40 L728.30,291.03 L729.00,289.65 L729.70,288.28 L730.41,286.91 L731.13,285.54 L731.86,284.17 L732.60,282.80 L733.35,281.44 L734.11,280.09 L734.89,278.74 L735.69,277.41 L736.49,276.09 L737.32,274.78 L738.16,273.50 L739.02,272.23 L739.90,270.98 L740.80,269.76 L741.71,268.57 L742.65,267.40 L743.62,266.27 L744.60,265.17 L745.62,264.11 L746.65,263.08 L747.71,262.09 L748.80,261.15 L749.92,260.25 L751.07,259.39 L752.24,258.59 L753.45,257.83 L754.68,257.12 L755.94,256.45 L757.23,255.83 L758.54,255.24 L759.87,254.70 L761.22,254.18 L762.59,253.70 L763.97,253.25 L765.38,252.83 L766.79,252.44 L768.22,252.06 L769.66,251.71 L771.11,251.38 L772.57,251.06 L774.03,250.76 L775.50,250.47 L776.97,250.19 L778.45,249.92 L779.92,249.65 L781.40,249.39 L782.88,249.14 L784.35,248.89 L785.83,248.64 L787.31,248.40 L788.79,248.17 L790.27,247.94 L791.75,247.72 L793.23,247.50 L794.72,247.29 L796.20,247.08 L797.68,246.87 L799.17,246.67 L800.65,246.48 L802.14,246.29 L803.62,246.11 L805.11,245.92 L806.59,245.75 L808.08,245.58 L809.57,245.41 L811.06,245.24 L812.55,245.09 L814.04,244.93 L815.53,244.78 L817.02,244.63 L818.51,244.49 L820.00,244.35 L821.49,244.21 L822.99,244.08 L824.48,243.95 L825.97,243.82 L827.47,243.70 L828.96,243.58 L830.45,243.46 L831.95,243.35 L833.44,243.24 L834.94,243.13 L836.44,243.02 L837.93,242.92 L839.43,242.82 L840.93,242.72 L842.42,242.63 L843.92,242.54 L845.42,242.45 L846.92,242.36 L848.41,242.28 L849.91,242.20 L851.41,242.11 L852.91,242.04 L854.41,241.96 L855.91,241.89 L857.41,241.81 L858.91,241.74 L860.41,241.67 L861.91,241.60 L863.41,241.54 L864.91,241.47 L866.41,241.41 L867.91,241.35 L869.41,241.29 L870.92,241.23 L872.42,241.17 L873.92,241.11 L875.42,241.05 L876.92,241.00 L878.42,240.94 L879.92,240.89 L881.43,240.83 L882.93,240.78 L884.43,240.72 L885.93,240.67 L887.43,240.62 L888.93,240.57 L890.43,240.51 L891.94,240.46 L893.44,240.41 L894.94,240.36 L896.44,240.30 L897.94,240.25 L899.44,240.20 L900.94,240.14 L902.44,240.09 L903.94,240.04 L905.45,239.98 L906.95,239.93 L908.45,239.87 L909.95,239.82 L911.45,239.76 L912.95,239.71 L914.45,239.65 L915.95,239.59 L917.45,239.54 L918.95,239.48 L920.45,239.42 L921.95,239.36 L923.45,239.31 L924.95,239.25 L926.45,239.19 L927.95,239.13 L929.45,239.07 L930.94,239.01 L932.44,238.95 L933.94,238.89 L935.44,238.83 L936.94,238.77 L938.44,238.71 L939.94,238.65 L941.44,238.59 L942.94,238.53 L944.44,238.47 L945.93,238.41 L947.43,238.35 L948.93,238.28 L950.43,238.22 L951.93,238.16 L953.43,238.10 L954.93,238.03 L956.42,237.97 L957.92,237.91 L959.42,237.84 L960.92,237.78 L962.42,237.72 L963.91,237.65 L965.41,237.59 L966.91,237.52 L968.41,237.46 L969.91,237.39 L971.40,237.33 L972.90,237.26 L974.40,237.20 L975.90,237.13 L977.39,237.07 L978.89,237.00 L980.39,236.94 L981.89,236.87 L983.38,236.80 L984.88,236.74 L986.38,236.67 L987.88,236.60 L989.37,236.54 L990.87,236.47 L992.37,236.40 L993.86,236.33 L995.36,236.27 L996.86,236.20 L998.36,236.13 L999.85,236.06 L1001.35,236.00 L1002.85,235.93 L1004.34,235.86 L1005.84,235.79 L1007.34,235.72 L1008.83,235.65 L1010.33,235.59 L1011.83,235.52 L1013.32,235.45 L1014.82,235.38 L1016.32,235.31 L1017.82,235.24 L1019.31,235.17 L1020.81,235.10 L1022.31,235.03 L1023.80,234.96 L1025.30,234.89 L1026.80,234.82 L1028.29,234.75 L1029.79,234.68 L1031.29,234.61 L1032.78,234.54 L1034.28,234.47 L1035.78,234.40 L1037.27,234.33 L1038.77,234.26 L1040.27,234.19 L1041.76,234.12 L1043.26,234.05 L1044.76,233.98 L1046.25,233.91 L1047.75,233.84 L1049.25,233.77 L1050.74,233.70 L1052.24,233.63 L1053.74,233.56 L1055.23,233.49 L1056.73,233.41 L1058.23,233.34 L1059.72,233.27 L1061.22,233.20 L1062.72,233.13 L1064.22,233.06 L1065.71,232.99 L1067.21,232.92 L1068.71,232.85 L1070.20,232.78 L1071.70,232.71 L1073.20,232.64 L1074.69,232.56 L1076.19,232.49 L1077.69,232.42 L1079.19,232.35 L1080.68,232.28 L1082.18,232.21 L1083.68,232.14 L1085.17,232.07 L1086.67,232.00 L1088.17,231.93 L1089.67,231.86 L1091.16,231.79 L1092.66,231.72 L1094.16,231.65 L1095.66,231.58 L1097.15,231.51 L1098.65,231.43 L1100.15,231.36 L1101.65,231.29 L1103.14,231.22 L1104.64,231.15 L1106.14,231.08 L1107.64,231.01 L1109.14,230.94 L1110.63,230.87 L1112.13,230.80 L1113.63,230.74 L1115.13,230.67 L1116.63,230.60 L1118.12,230.53 L1119.62,230.46 L1121.12,230.39 L1122.62,230.32 L1124.12,230.25 L1125.62,230.18 L1127.11,230.11 L1128.61,230.04 L1130.11,229.98 L1131.61,229.91 L1133.11,229.84 L1134.61,229.77 L1136.11,229.70 L1137.61,229.63 L1139.11,229.57 L1140.60,229.50 L1142.10,229.43 L1143.60,229.36 L1145.10,229.30 L1146.60,229.23 L1148.10,229.16 L1149.60,229.10 L1151.10,229.03 L1152.60,228.96 L1154.10,228.90 L1155.60,228.83 L1157.10,228.76 L1158.60,228.70 L1160.10,228.63 L1161.60,228.57 L1163.10,228.50" fill="none" stroke="#3b3bf5" stroke-width="1" stroke-dasharray="4.8 3.7"/>
<path d="M703.60,348.90 L704.26,347.57 L704.92,346.24 L705.58,344.91 L706.24,343.58 L706.90,342.24 L707.56,340.91 L708.22,339.58 L708.88,338.24 L709.54,336.91 L710.20,335.57 L710.86,334.23 L711.53,332.90 L712.19,331.56 L712.86,330.22 L713.52,328.88 L714.19,327.55 L714.86,326.21 L715.54,324.87 L716.21,323.53 L716.89,322.19 L717.57,320.85 L718.25,319.51 L718.93,318.17 L719.62,316.84 L720.31,315.50 L721.00,314.16 L721.69,312.82 L722.39,311.48 L723.09,310.15 L723.80,308.81 L724.51,307.47 L725.22,306.14 L725.94,304.80 L726.66,303.47 L727.38,302.13 L728.11,300.80 L728.85,299.46 L729.58,298.13 L730.33,296.80 L731.08,295.47 L731.83,294.14 L732.59,292.81 L733.35,291.49 L734.12,290.17 L734.90,288.85 L735.69,287.54 L736.49,286.24 L737.30,284.94 L738.12,283.66 L738.95,282.39 L739.80,281.13 L740.66,279.89 L741.53,278.66 L742.42,277.45 L743.33,276.26 L744.26,275.09 L745.21,273.93 L746.17,272.80 L747.16,271.70 L748.17,270.61 L749.20,269.56 L750.25,268.53 L751.33,267.53 L752.43,266.56 L753.56,265.62 L754.71,264.71 L755.88,263.83 L757.07,262.97 L758.29,262.14 L759.52,261.33 L760.77,260.56 L762.04,259.80 L763.32,259.07 L764.62,258.35 L765.93,257.66 L767.26,256.99 L768.59,256.34 L769.94,255.71 L771.30,255.10 L772.66,254.50 L774.03,253.92 L775.41,253.36 L776.79,252.80 L778.18,252.27 L779.57,251.74 L780.96,251.23 L782.35,250.73 L783.75,250.25 L785.16,249.77 L786.56,249.31 L787.97,248.86 L789.38,248.42 L790.80,248.00 L792.21,247.58 L793.64,247.18 L795.06,246.79 L796.49,246.41 L797.91,246.04 L799.35,245.68 L800.78,245.33 L802.22,244.99 L803.66,244.66 L805.10,244.34 L806.55,244.03 L808.00,243.73 L809.45,243.44 L810.90,243.16 L812.35,242.88 L813.81,242.62 L815.27,242.36 L816.73,242.12 L818.20,241.88 L819.66,241.65 L821.13,241.42 L822.60,241.21 L824.07,241.00 L825.55,240.80 L827.02,240.61 L828.50,240.42 L829.98,240.24 L831.46,240.07 L832.94,239.90 L834.43,239.74 L835.91,239.58 L837.40,239.44 L838.89,239.29 L840.38,239.16 L841.87,239.02 L843.37,238.90 L844.86,238.77 L846.36,238.66 L847.85,238.54 L849.35,238.43 L850.85,238.33 L852.35,238.23 L853.85,238.13 L855.35,238.04 L856.86,237.95 L858.36,237.86 L859.87,237.78 L861.37,237.70 L862.88,237.62 L864.38,237.55 L865.89,237.47 L867.40,237.40 L868.91,237.34 L870.42,237.27 L871.93,237.20 L873.44,237.14 L874.95,237.08 L876.46,237.02 L877.97,236.96 L879.48,236.90 L880.99,236.84 L882.50,236.78 L884.02,236.72 L885.53,236.66 L887.04,236.60 L888.55,236.54 L890.06,236.48 L891.57,236.42 L893.08,236.36 L894.59,236.30 L896.10,236.24 L897.61,236.17 L899.12,236.11 L900.63,236.04 L902.14,235.97 L903.65,235.89 L905.16,235.82 L906.66,235.74 L908.17,235.66 L909.68,235.58 L911.18,235.50 L912.69,235.42 L914.19,235.33 L915.70,235.25 L917.20,235.16 L918.71,235.06 L920.21,234.97 L921.71,234.88 L923.21,234.78 L924.71,234.68 L926.22,234.58 L927.72,234.48 L929.22,234.38 L930.72,234.27 L932.22,234.17 L933.72,234.06 L935.22,233.95 L936.71,233.84 L938.21,233.73 L939.71,233.61 L941.21,233.50 L942.71,233.38 L944.20,233.26 L945.70,233.14 L947.19,233.02 L948.69,232.90 L950.19,232.77 L951.68,232.65 L953.18,232.52 L954.67,232.39 L956.16,232.26 L957.66,232.13 L959.15,232.00 L960.64,231.86 L962.14,231.73 L963.63,231.59 L965.12,231.45 L966.61,231.32 L968.11,231.18 L969.60,231.03 L971.09,230.89 L972.58,230.75 L974.07,230.60 L975.56,230.46 L977.05,230.31 L978.54,230.16 L980.03,230.01 L981.52,229.86 L983.01,229.71 L984.50,229.56 L985.99,229.41 L987.48,229.25 L988.97,229.10 L990.45,228.94 L991.94,228.79 L993.43,228.63 L994.92,228.47 L996.41,228.31 L997.89,228.15 L999.38,227.99 L1000.87,227.82 L1002.35,227.66 L1003.84,227.50 L1005.33,227.33 L1006.81,227.17 L1008.30,227.00 L1009.79,226.84 L1011.27,226.67 L1012.76,226.50 L1014.24,226.33 L1015.73,226.16 L1017.22,225.99 L1018.70,225.82 L1020.19,225.65 L1021.67,225.48 L1023.16,225.30 L1024.64,225.13 L1026.13,224.96 L1027.61,224.78 L1029.10,224.61 L1030.58,224.43 L1032.07,224.26 L1033.55,224.08 L1035.04,223.91 L1036.52,223.73 L1038.01,223.55 L1039.49,223.37 L1040.98,223.20 L1042.46,223.02 L1043.94,222.84 L1045.43,222.66 L1046.91,222.48 L1048.40,222.30 L1049.88,222.12 L1051.37,221.94 L1052.85,221.76 L1054.34,221.58 L1055.82,221.40 L1057.31,221.22 L1058.79,221.04 L1060.27,220.86 L1061.76,220.67 L1063.24,220.49 L1064.73,220.31 L1066.21,220.13 L1067.70,219.95 L1069.18,219.77 L1070.67,219.58 L1072.15,219.40 L1073.64,219.22 L1075.13,219.04 L1076.61,218.86 L1078.10,218.68 L1079.58,218.49 L1081.07,218.31 L1082.55,218.13 L1084.04,217.95 L1085.53,217.77 L1087.01,217.59 L1088.50,217.41 L1089.99,217.23 L1091.47,217.05 L1092.96,216.87 L1094.45,216.69 L1095.93,216.51 L1097.42,216.33 L1098.91,216.15 L1100.40,215.97 L1101.88,215.80 L1103.37,215.62 L1104.86,215.44 L1106.35,215.26 L1107.84,215.09 L1109.33,214.91 L1110.81,214.73 L1112.30,214.56 L1113.79,214.38 L1115.28,214.21 L1116.77,214.04 L1118.26,213.86 L1119.75,213.69 L1121.24,213.52 L1122.73,213.35 L1124.23,213.18 L1125.72,213.01 L1127.21,212.84 L1128.70,212.67 L1130.19,212.50 L1131.69,212.33 L1133.18,212.16 L1134.67,212.00 L1136.16,211.83 L1137.66,211.67 L1139.15,211.50 L1140.65,211.34 L1142.14,211.18 L1143.64,211.02 L1145.13,210.86 L1146.63,210.70 L1148.12,210.54 L1149.62,210.38 L1151.12,210.22 L1152.61,210.07 L1154.11,209.91 L1155.61,209.76 L1157.11,209.60 L1158.60,209.45 L1160.10,209.30 L1161.60,209.15 L1163.10,209.00" fill="none" stroke="#f9ae3c" stroke-width="1"/>
<path d="M792.1,244.5 L796.7,249.1 M796.7,244.5 L792.1,249.1" stroke="#6a6a6a" stroke-width="0.7"/>
<path d="M680.5,51.2 V363.4 H1165.5" fill="none" stroke="#231816" stroke-width="2.2"/>
<line x1="676.2" y1="353.4" x2="680" y2="353.4" stroke="#231816" stroke-width="1"/>
<line x1="676.2" y1="292.7" x2="680" y2="292.7" stroke="#231816" stroke-width="1"/>
<line x1="676.2" y1="232.5" x2="680" y2="232.5" stroke="#231816" stroke-width="1"/>
<line x1="676.2" y1="172.3" x2="680" y2="172.3" stroke="#231816" stroke-width="1"/>
<line x1="676.2" y1="111.3" x2="680" y2="111.3" stroke="#231816" stroke-width="1"/>
<line x1="676.2" y1="51.2" x2="680" y2="51.2" stroke="#231816" stroke-width="1"/>
<line x1="700.3" y1="363" x2="700.3" y2="369" stroke="#231816" stroke-width="1"/>
<line x1="792.5" y1="363" x2="792.5" y2="369" stroke="#231816" stroke-width="1"/>
<line x1="885.5" y1="363" x2="885.5" y2="369" stroke="#231816" stroke-width="1"/>
<line x1="978" y1="363" x2="978" y2="369" stroke="#231816" stroke-width="1"/>
<line x1="1071" y1="363" x2="1071" y2="369" stroke="#231816" stroke-width="1"/>
<line x1="1163.3" y1="363" x2="1163.3" y2="369" stroke="#231816" stroke-width="1"/>
<text x="650.5" y="357" font-size="11" text-anchor="start" >0</text>
<text x="650.5" y="299" font-size="11" text-anchor="start" >20</text>
<text x="650.5" y="234.3" font-size="11" text-anchor="start" >40</text>
<text x="650.5" y="174.1" font-size="11" text-anchor="start" >60</text>
<text x="650.5" y="113.6" font-size="11" text-anchor="start" >80</text>
<text x="650.5" y="54.3" font-size="11" text-anchor="start" >100</text>
<text x="701" y="382.2" font-size="11" text-anchor="middle" >0</text>
<text x="790.7" y="382.2" font-size="11" text-anchor="middle" >200</text>
<text x="883.3" y="382.2" font-size="11" text-anchor="middle" >400</text>
<text x="976.1" y="382.2" font-size="11" text-anchor="middle" >600</text>
<text x="1068.9" y="382.2" font-size="11" text-anchor="middle" >800</text>
<text x="1162.9" y="382.2" font-size="11" text-anchor="middle" >1000</text>
<text x="633.5" y="51" font-size="12" text-anchor="start" font-weight="bold" font-style="italic">S</text>
<text x="1183.2" y="388" font-size="12" text-anchor="start" font-weight="bold" font-style="italic">D</text>
<text x="799.5" y="264.8" font-size="11.2" text-anchor="start" >(201.5,35.6)</text>
<text x="938.4" y="433.6" font-size="19.5" text-anchor="start" >(</text>
<text x="944.6" y="433.8" font-size="18.5" text-anchor="start" >b</text>
<text x="956" y="433.6" font-size="19.5" text-anchor="start" >)</text>
<rect x="729.5" y="47.8" width="142" height="60.5" fill="#fff" stroke="#5f5f5f" stroke-width="1.2"/>
<line x1="737" y1="60.4" x2="800.6" y2="60.4" stroke="#f9ae3c" stroke-width="1.1"/>
<line x1="737" y1="79.6" x2="800.6" y2="79.6" stroke="#3b3bf5" stroke-width="1" stroke-dasharray="4.2 4.3"/>
<line x1="737" y1="100.3" x2="800.6" y2="100.3" stroke="#ff3c3c" stroke-width="1.1" stroke-dasharray="12.7 4.3"/>
<text x="815" y="62.6" font-size="12" text-anchor="start" >Type I</text>
<text x="815" y="81.9" font-size="12" text-anchor="start" >Type II</text>
<text x="815" y="101.1" font-size="12" text-anchor="start" >Type III</text>
</svg>
</body></html>
